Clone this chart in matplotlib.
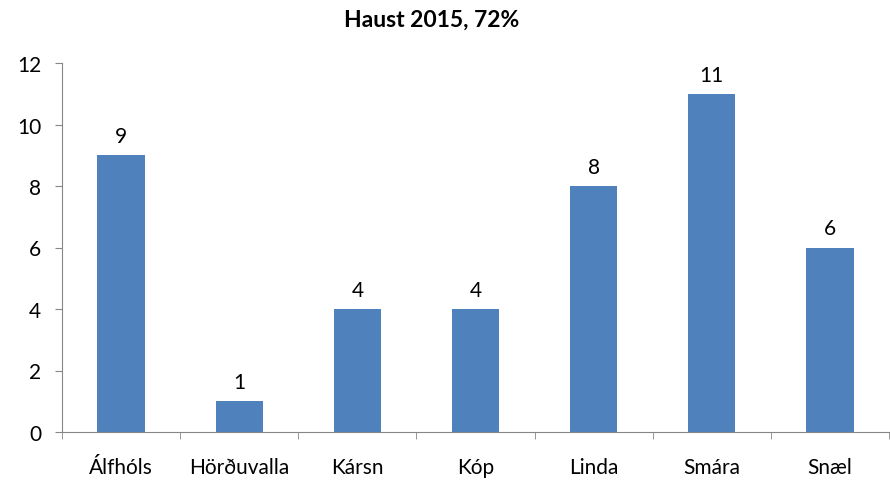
import numpy as np
import matplotlib.pyplot as plt

plt.rcParams['font.family'] = ['Lato', 'DejaVu Sans']

categories = ['Álfhóls', 'Hörðuvalla', 'Kársn', 'Kóp', 'Linda', 'Smára', 'Snæl']
values = [9, 1, 4, 4, 8, 11, 6]

fig = plt.figure(figsize=(8.9, 4.81), dpi=100)
ax = fig.add_axes([62/890, 48/481, 827/890, 369/481])

x = np.arange(len(categories))
bars = ax.bar(x, values, width=0.4, color='#4f81bd')
for xi, v in zip(x, values):
    ax.text(xi, v + 0.3, str(v), ha='center', va='bottom', fontsize=15)

ax.set_xlim(-0.5, len(categories) - 0.5)
ax.set_ylim(0, 12)
ax.set_yticks(range(0, 13, 2))
ax.set_xticks(x)
ax.set_xticklabels(categories, fontsize=15)
ax.set_xticks(np.arange(-0.5, len(categories), 1), minor=True)
ax.tick_params(axis='x', which='major', length=0, pad=18)
ax.tick_params(axis='x', which='minor', length=5, color='#868686', direction='out')
ax.tick_params(axis='y', length=5, color='#868686', labelsize=15, pad=10)

for s in ['top', 'right']:
    ax.spines[s].set_visible(False)
for s in ['left', 'bottom']:
    ax.spines[s].set_color('#868686')

fig.suptitle('Haust 2015, 72%', fontsize=16.5, fontweight='bold', x=0.485, y=0.98)

fig.savefig('out.png', dpi=100)
